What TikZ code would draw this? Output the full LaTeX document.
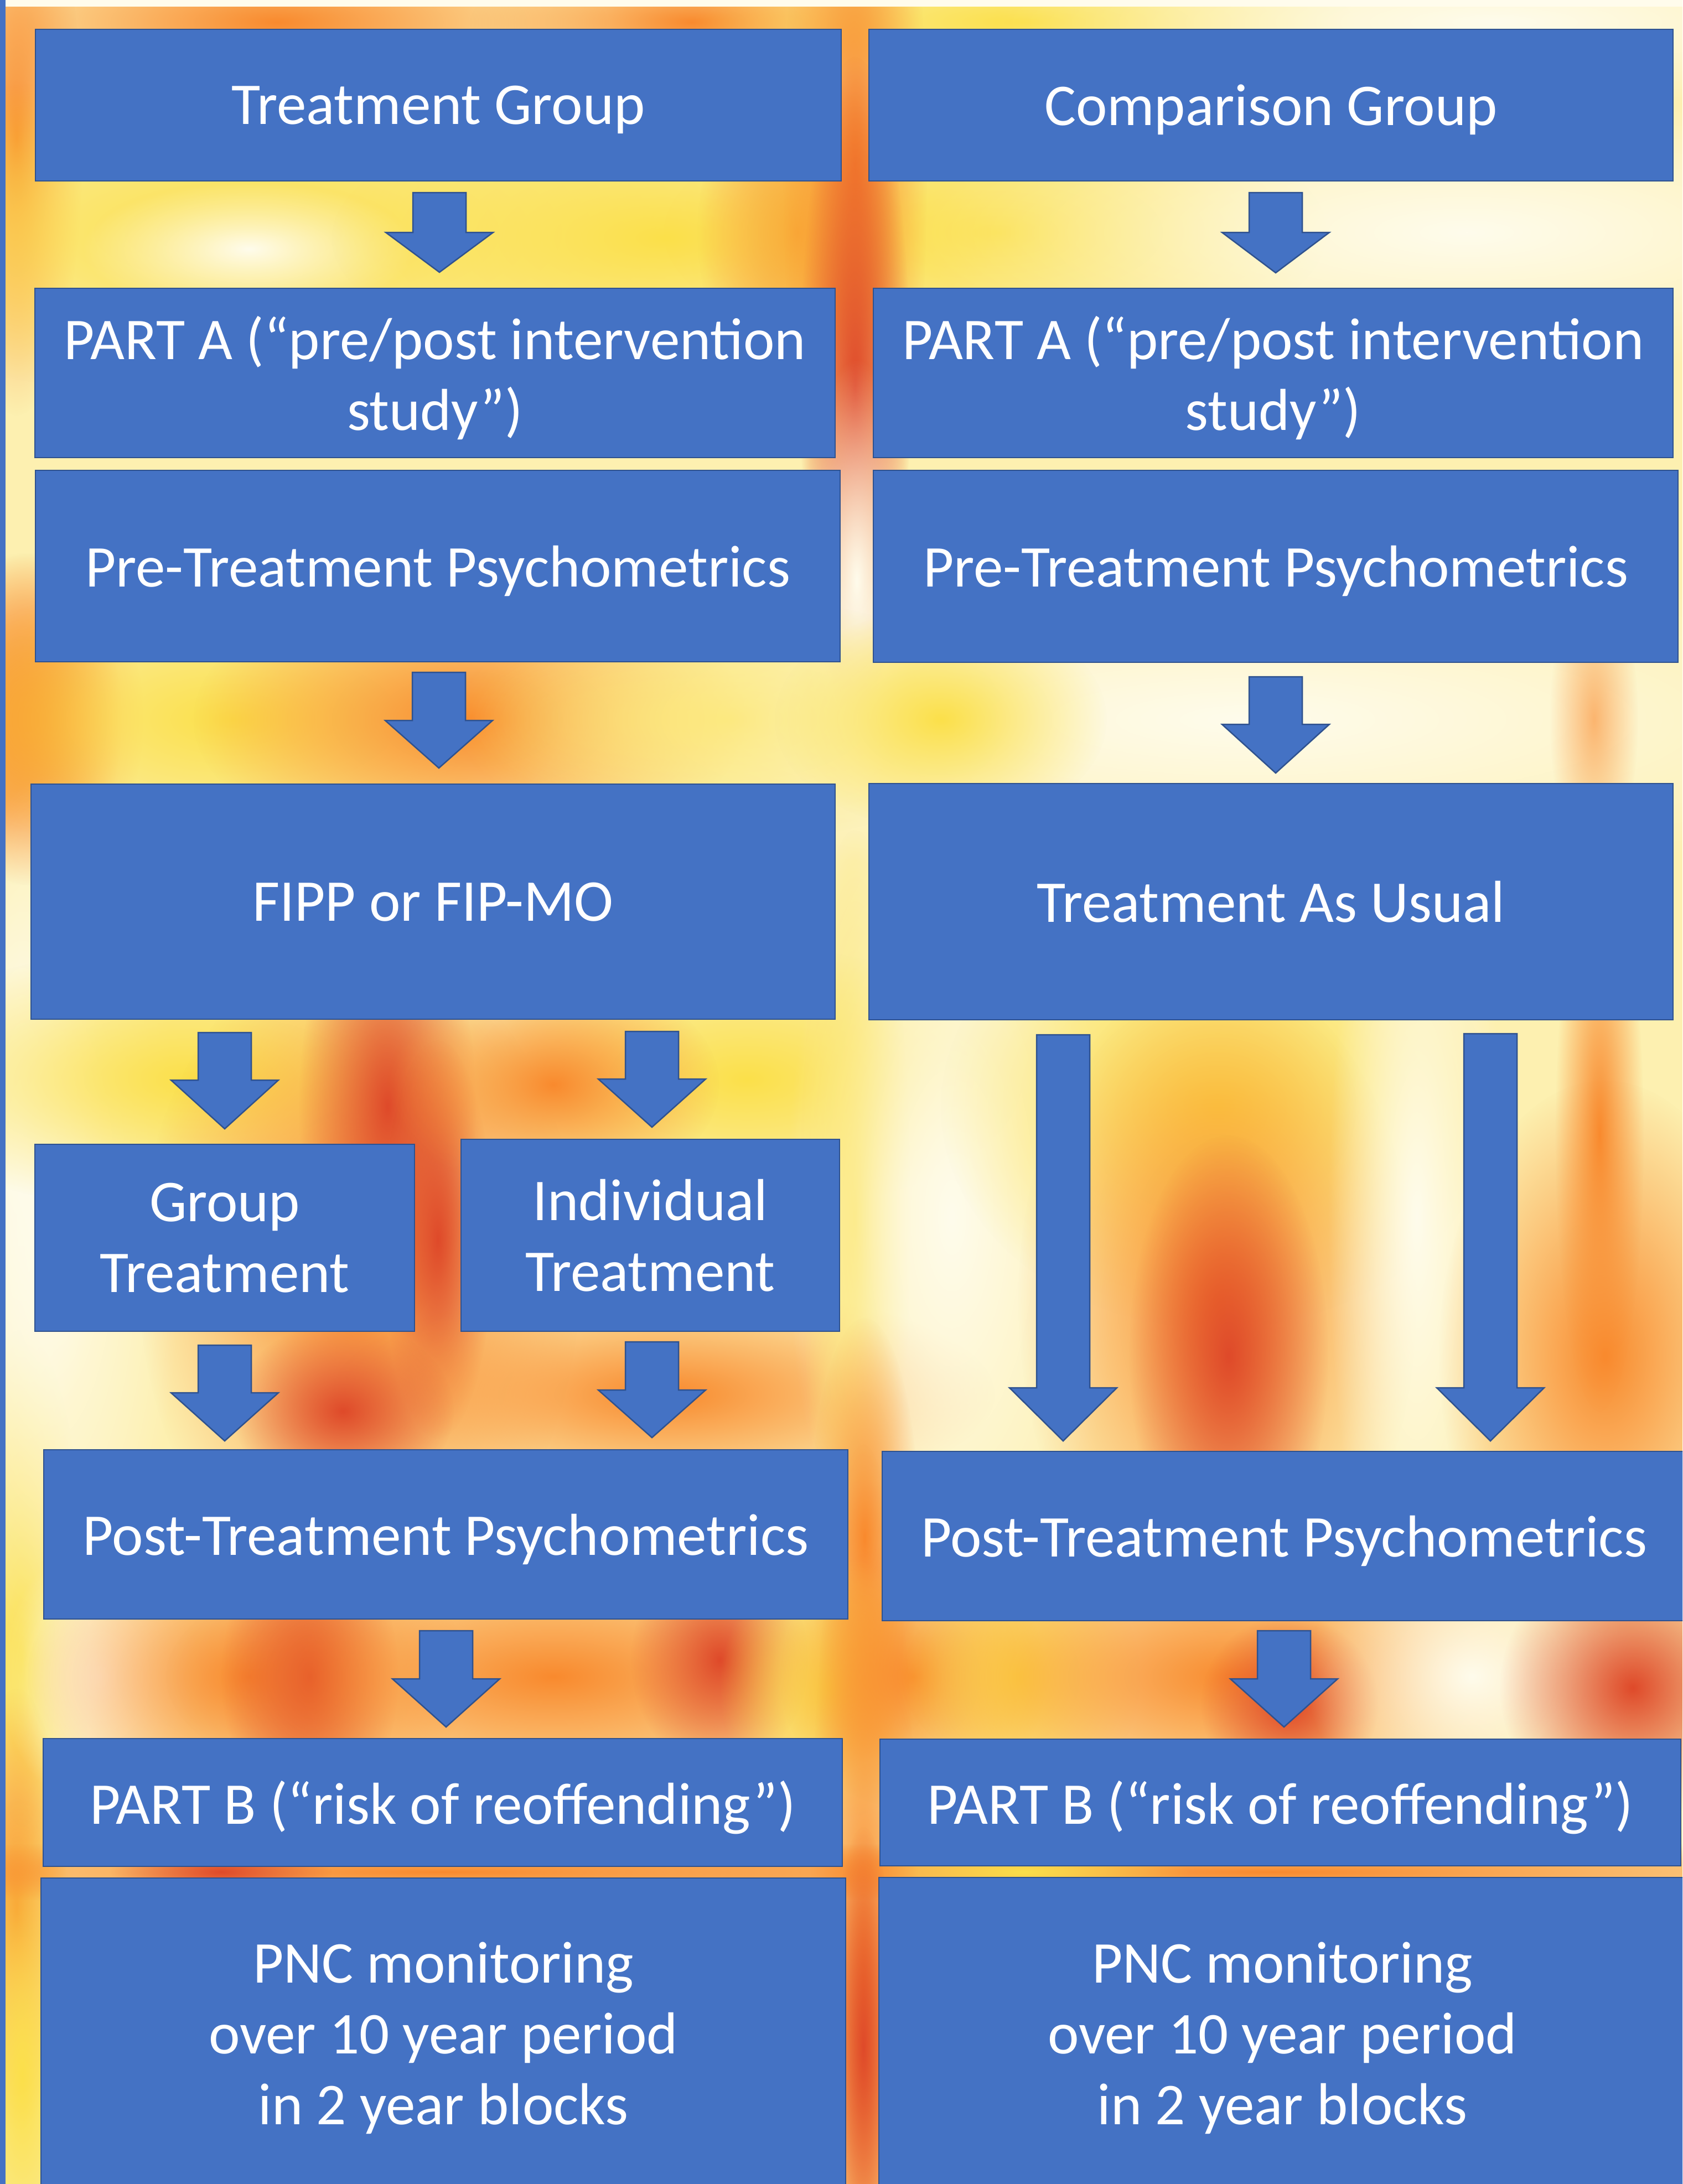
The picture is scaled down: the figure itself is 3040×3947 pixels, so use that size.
\documentclass[tikz,border=0pt]{standalone}
\usepackage{fontspec}
\setmainfont{Carlito}
\usetikzlibrary{fadings}
\definecolor{boxblue}{HTML}{4472C4}
\definecolor{bdr}{HTML}{2F528F}
\definecolor{flY}{HTML}{FBE04A}
\definecolor{flO}{HTML}{F98A2E}
\definecolor{flR}{HTML}{DF4A2A}
\definecolor{flC}{HTML}{FFFCEC}
\definecolor{flBase}{HTML}{FDF0B0}
\tikzfading[name=softblob, inner color=transparent!0, outer color=transparent!100]
\tikzset{
  blk/.style={draw=bdr, fill=boxblue, line width=2.5pt, text=white, align=center,
    inner sep=0pt, text depth=0pt, font=\fontsize{107}{128}\selectfont},
  barr/.style={draw=bdr, fill=boxblue, line width=2.5pt, line join=miter},
  blob/.style={fill=#1, path fading=softblob},
}
% block down arrow: cx, top, head start, tip
\newcommand\blockdown[4]{%
  \path[barr] ({#1-48},#2) -- ({#1+48},#2) -- ({#1+48},#3) -- ({#1+97},#3)
    -- (#1,#4) -- ({#1-97},#3) -- ({#1-48},#3) -- cycle;}
\begin{document}
\begin{tikzpicture}[x=1pt,y=-1pt]
\useasboundingbox (0,0) rectangle (3040,3947);
\clip (0,0) rectangle (3040,3947);
% ---------- background ----------
\fill[flBase] (0,0) rectangle (3040,3947);
% top strip
\path[blob=flO] (500,40) ellipse (600pt and 160pt);
\path[blob=flO] (1250,40) ellipse (400pt and 120pt);
\path[blob=flY] (1850,40) ellipse (600pt and 120pt);
\path[blob=flC] (2700,40) ellipse (900pt and 160pt);
% left edge
\path[blob=flO] (30,250) ellipse (120pt and 500pt);
\path[blob=flO] (40,1300) ellipse (180pt and 300pt);
\path[blob=flC] (40,2050) ellipse (150pt and 600pt);
\path[blob=flY] (40,3000) ellipse (120pt and 600pt);
\path[blob=flO] (30,3450) ellipse (90pt and 400pt);
\path[blob=flY] (40,3750) ellipse (120pt and 500pt);
% gap 1
\path[blob=flY] (450,420) ellipse (900pt and 300pt);
\path[blob=flC] (450,450) ellipse (300pt and 120pt);
\path[blob=flY] (1200,430) ellipse (600pt and 240pt);
\path[blob=flO] (1440,420) ellipse (180pt and 300pt);
\path[blob=flY] (1800,420) ellipse (600pt and 240pt);
\path[blob=flC] (2650,420) ellipse (1000pt and 260pt);
% central channel top
\path[blob=flO] (1545,300) ellipse (130pt and 800pt);
\path[blob=flR] (1545,700) ellipse (100pt and 600pt);
\path[blob=flC] (1548,1050) ellipse (100pt and 400pt);
% gap 2
\path[blob=flO] (60,1300) ellipse (200pt and 300pt);
\path[blob=flY] (420,1300) ellipse (600pt and 260pt);
\path[blob=flO] (850,1300) ellipse (500pt and 260pt);
\path[blob=flY] (1320,1300) ellipse (500pt and 220pt);
\path[blob=flC] (2250,1300) ellipse (1400pt and 300pt);
\path[blob=flY] (1700,1300) ellipse (300pt and 200pt);
\path[blob=flO, opacity=0.6] (2880,1300) ellipse (80pt and 260pt);
% gap 3 left
\path[blob=flC] (90,2200) ellipse (240pt and 800pt);
\path[blob=flY] (350,1950) ellipse (600pt and 240pt);
\path[blob=flO] (650,2300) ellipse (400pt and 600pt);
\path[blob=flR] (700,2000) ellipse (160pt and 400pt);
\path[blob=flR] (791,2240) ellipse (100pt and 360pt);
\path[blob=flY] (1350,1950) ellipse (500pt and 240pt);
\path[blob=flO] (1000,1960) ellipse (300pt and 200pt);
\path[blob=flO] (1200,2520) ellipse (600pt and 200pt);
\path[blob=flR] (620,2550) ellipse (200pt and 160pt);
\path[blob=flY] (1545,2200) ellipse (100pt and 700pt);
% gap 3 right
\path[blob=flC] (1720,2200) ellipse (300pt and 800pt);
\path[blob=flY] (2200,2000) ellipse (500pt and 400pt);
\path[blob=flO] (2200,2350) ellipse (360pt and 600pt);
\path[blob=flR] (2220,2450) ellipse (180pt and 400pt);
\path[blob=flC] (2560,2200) ellipse (160pt and 800pt);
\path[blob=flO] (2900,2450) ellipse (300pt and 500pt);
\path[blob=flO] (2890,2050) ellipse (80pt and 500pt);
% post-treatment channel
\path[blob=flO] (1562,2780) ellipse (100pt and 400pt);
% gap 4
\path[blob=flC] (180,3030) ellipse (180pt and 240pt);
\path[blob=flO] (450,3030) ellipse (400pt and 260pt);
\path[blob=flR] (560,3030) ellipse (160pt and 260pt);
\path[blob=flO] (1000,3030) ellipse (700pt and 260pt);
\path[blob=flR] (1300,3000) ellipse (160pt and 200pt);
\path[blob=flY] (1500,3050) ellipse (200pt and 240pt);
\path[blob=flO] (1650,3030) ellipse (240pt and 240pt);
\path[blob=flY] (1840,3030) ellipse (220pt and 240pt);
\path[blob=flO] (2230,3030) ellipse (600pt and 260pt);
\path[blob=flR] (2330,3080) ellipse (160pt and 160pt);
\path[blob=flC] (2660,3030) ellipse (300pt and 260pt);
\path[blob=flR] (2950,3050) ellipse (240pt and 240pt);
% strip between part B and PNC
\path[blob=flO] (800,3383) ellipse (1400pt and 60pt);
\path[blob=flR] (400,3383) ellipse (200pt and 50pt);
\path[blob=flO] (2300,3383) ellipse (1400pt and 60pt);
\path[blob=flY] (1850,3383) ellipse (300pt and 50pt);
% bottom channel
\path[blob=flO] (1560,3600) ellipse (100pt and 1000pt);
\path[blob=flR] (1560,3700) ellipse (60pt and 400pt);
% frame details
\fill[flC] (0,0) rectangle (3040,12);
\fill[boxblue] (0,0) rectangle (10,3947);

% ---------- boxes ----------
\node[blk, minimum width=1456pt, minimum height=274pt] (tg)   at (792,190)    {Treatment Group};
\node[blk, minimum width=1453pt, minimum height=274pt] (cg)   at (2296.5,190) {Comparison Group};
\node[blk, minimum width=1446pt, minimum height=306pt] (paL)  at (786,674)    {PART A (“pre/post intervention\\study”)};
\node[blk, minimum width=1445pt, minimum height=306pt] (paR)  at (2300.5,674) {PART A (“pre/post intervention\\study”)};
\node[blk, minimum width=1454pt, minimum height=346pt] (preL) at (791,1023)   {Pre-Treatment Psychometrics};
\node[blk, minimum width=1454pt, minimum height=347pt] (preR) at (2305,1023.5) {Pre-Treatment Psychometrics};
\node[blk, minimum width=1453pt, minimum height=425pt] (fipp) at (782.5,1629.5) {FIPP or FIP-MO};
\node[blk, minimum width=1453pt, minimum height=427pt] (tau)  at (2296.5,1629.5) {Treatment As Usual};
\node[blk, minimum width=686pt,  minimum height=338pt] (gt)   at (406,2237)   {Group\\Treatment};
\node[blk, minimum width=684pt,  minimum height=347pt] (it)   at (1175,2232.5) {Individual\\Treatment};
\node[blk, minimum width=1453pt, minimum height=306pt] (postL) at (805.5,2773) {Post-Treatment Psychometrics};
\node[blk, minimum width=1452pt, minimum height=306pt] (postR) at (2320,2776) {Post-Treatment Psychometrics};
\node[blk, minimum width=1444pt, minimum height=231pt] (pbL)  at (800,3257.5) {PART B (“risk of reoffending”)};
\node[blk, minimum width=1447pt, minimum height=229pt] (pbR)  at (2313.5,3257.5) {PART B (“risk of reoffending”)};
\node[blk, minimum width=1454pt, minimum height=562pt] (pncL) at (801,3675)   {PNC monitoring\\over 10 year period\\in 2 year blocks};
\node[blk, minimum width=1458pt, minimum height=563pt] (pncR) at (2317,3674.5) {PNC monitoring\\over 10 year period\\in 2 year blocks};

% ---------- block arrows ----------
\blockdown{794}{348}{420}{492}
\blockdown{2305}{348}{420}{493}
\blockdown{793}{1215}{1302}{1388}
\blockdown{2305}{1223}{1309}{1397}
\blockdown{406}{1866}{1952}{2040}
\blockdown{1178}{1864}{1950}{2037}
\blockdown{406}{2431}{2517}{2604}
\blockdown{1178}{2425}{2512}{2598}
\blockdown{1921}{1870}{2508}{2604}
\blockdown{2693}{1868}{2508}{2604}
\blockdown{806}{2947}{3034}{3121}
\blockdown{2320}{2947}{3034}{3121}
\end{tikzpicture}
\end{document}
